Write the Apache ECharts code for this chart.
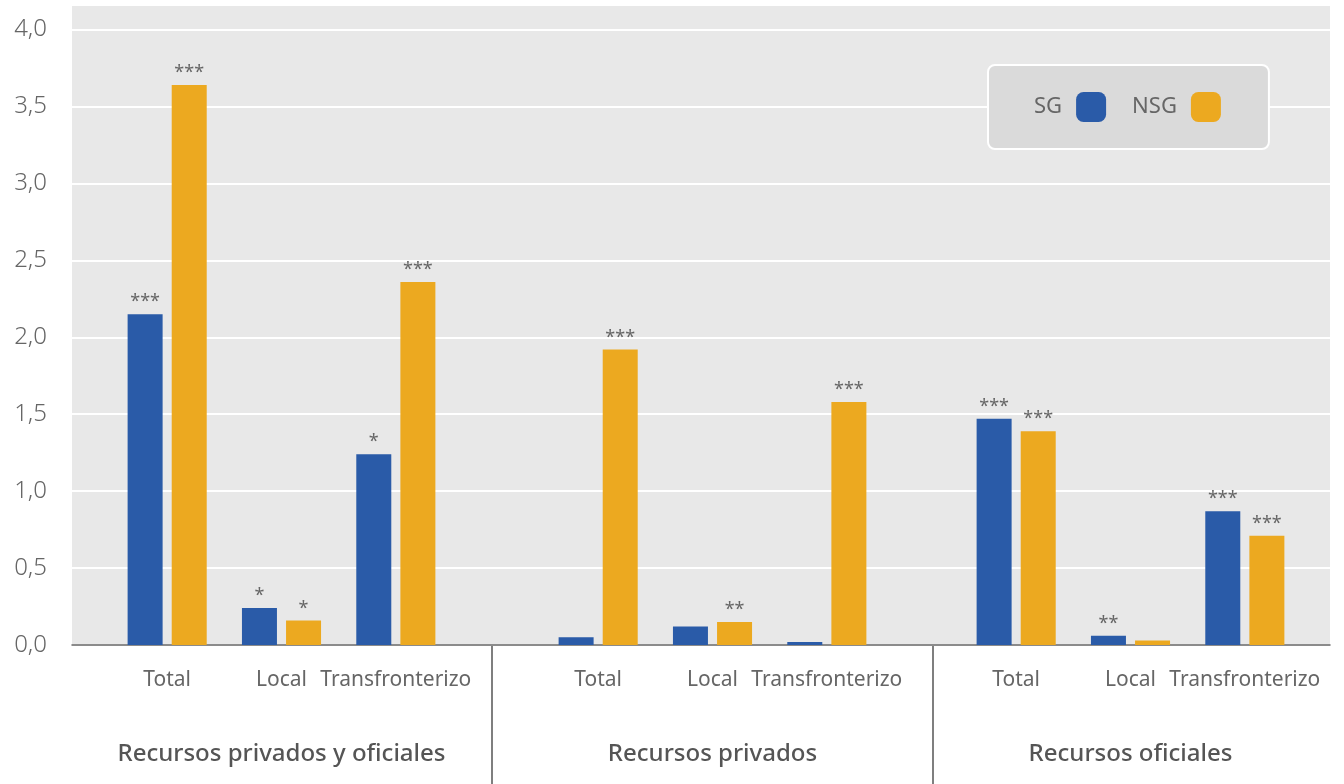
<!DOCTYPE html>
<html>
<head>
<meta charset="utf-8">
<script src="https://cdn.jsdelivr.net/npm/echarts@6/dist/echarts.min.js"></script>
<style>
html,body{margin:0;padding:0;background:#fff;}
#chart{width:1344px;height:784px;}
</style>
</head>
<body>
<div id="chart"></div>
<script>
const categories = ['Total', 'Local', 'Transfronterizo'];
const groups = ['Recursos privados y oficiales', 'Recursos privados', 'Recursos oficiales'];
const seriesNames = ['SG', 'NSG'];
const sgValues = [[2.15, 0.24, 1.24], [0.05, 0.12, 0.02], [1.47, 0.06, 0.87]];
const nsgValues = [[3.64, 0.16, 2.36], [1.92, 0.15, 1.58], [1.39, 0.03, 0.71]];
const sgStars = [['***', '*', '*'], ['', '', ''], ['***', '**', '***']];
const nsgStars = [['***', '*', '***'], ['***', '**', '***'], ['***', '', '***']];
const yTicks = [0, 0.5, 1, 1.5, 2, 2.5, 3, 3.5, 4];

const FONT = 'Noto Sans';
const BLUE = '#2a5ba8';
const ORANGE = '#eca920';
const YMAX = 4.16;

const chart = echarts.init(document.getElementById('chart'));

const gridLefts = [110, 541, 959];
const grids = [{ left: 72, right: 14, top: 5, bottom: 139, show: true, backgroundColor: '#e8e8e8', borderWidth: 0 }];
gridLefts.forEach(l => grids.push({ left: l, width: 343, top: 5, bottom: 139 }));

const yAxes = [{
  type: 'value', gridIndex: 0, min: 0, max: YMAX, interval: 0.5,
  axisLine: { show: false }, axisTick: { show: false },
  splitLine: { show: true, lineStyle: { color: '#ffffff', width: 2 } },
  axisLabel: {
    margin: 25, color: '#666', fontFamily: FONT, fontSize: 24, fontWeight: 300,
    formatter: v => yTicks.some(t => Math.abs(t - v) < 1e-6) ? v.toFixed(1).replace('.', ',') : ''
  }
}];
const xAxes = [{
  type: 'value', gridIndex: 0, min: 0, max: 1,
  axisLine: { show: true, onZero: false, lineStyle: { color: '#666', width: 1.5 } },
  axisTick: { show: false }, axisLabel: { show: false }, splitLine: { show: false }
}];
const series = [];
groups.forEach((g, i) => {
  yAxes.push({ type: 'value', gridIndex: i + 1, min: 0, max: YMAX, interval: 0.5, show: false, splitLine: { show: false } });
  xAxes.push({
    type: 'category', gridIndex: i + 1, data: categories,
    axisLine: { show: false }, axisTick: { show: false },
    axisLabel: { margin: 25, color: '#666', fontFamily: FONT, fontSize: 21, interval: 0 },
    name: g, nameLocation: 'middle', nameGap: 97,
    nameTextStyle: { color: '#555', fontFamily: FONT, fontSize: 24, fontWeight: 500 }
  });
  [[sgValues, sgStars, BLUE], [nsgValues, nsgStars, ORANGE]].forEach(([vals, stars, color], k) => {
    series.push({
      type: 'bar', name: seriesNames[k], xAxisIndex: i + 1, yAxisIndex: i + 1,
      data: vals[i], barWidth: 35, barGap: '26%',
      itemStyle: { color: color },
      label: {
        show: true, position: 'top', distance: 3, color: '#666', fontFamily: FONT, fontSize: 18,
        formatter: p => stars[i][p.dataIndex]
      }
    });
  });
});

chart.setOption({
  animation: false,
  grid: grids,
  xAxis: xAxes,
  yAxis: yAxes,
  legend: {
    data: seriesNames, left: 988, top: 65, align: 'right',
    icon: 'roundRect', itemWidth: 30, itemHeight: 30, itemGap: 26,
    backgroundColor: '#dadada', borderColor: '#ffffff', borderWidth: 2, borderRadius: 7,
    padding: [27, 48, 27, 46],
    textStyle: { color: '#666', fontFamily: FONT, fontSize: 22, padding: [0, 9, 0, 0] }
  },
  graphic: [
    { type: 'line', shape: { x1: 492, y1: 646, x2: 492, y2: 784 }, style: { stroke: '#555', lineWidth: 1.5 } },
    { type: 'line', shape: { x1: 933, y1: 646, x2: 933, y2: 784 }, style: { stroke: '#555', lineWidth: 1.5 } }
  ],
  series: series
});
</script>
</body>
</html>
